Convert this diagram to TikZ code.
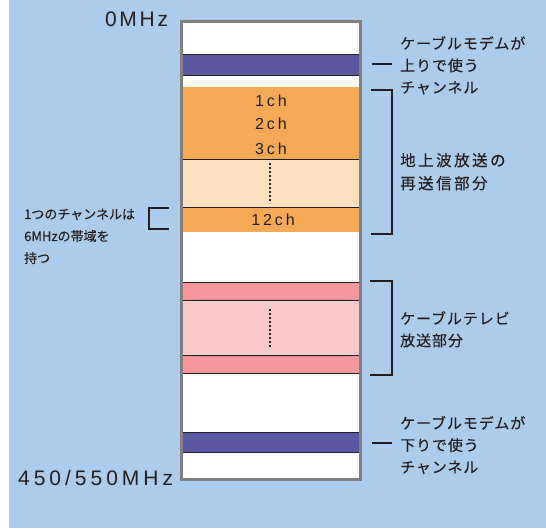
\documentclass[tikz,border=0pt]{standalone}
\usepackage{fontspec}
\setmainfont{Noto Sans CJK JP}
\newfontfamily\jp[FakeBold=0.3]{Noto Sans CJK JP}
\newfontfamily\lat{Liberation Sans}
\definecolor{bgblue}{HTML}{ABCDEB}
\definecolor{framegray}{HTML}{808080}
\definecolor{bandblue}{HTML}{5B57A2}
\definecolor{orangeband}{HTML}{F7AA55}
\definecolor{lightorange}{HTML}{FDE0C0}
\definecolor{redband}{HTML}{F5979D}
\definecolor{pinkband}{HTML}{F9C9C9}
\definecolor{ink}{HTML}{231F20}
\tikzset{
  sep/.style={draw=ink, line width=1pt},
  brk/.style={draw=ink, line width=1.8pt},
  rlabel/.style={anchor=west, inner sep=0pt, align=left, text=ink,
    font=\jp\fontsize{15}{22}\selectfont\addfontfeature{LetterSpace=6}},
  klabel/.style={anchor=west, inner sep=0pt, align=left, text=ink,
    font=\jp\fontsize{15.5}{23}\selectfont\addfontfeature{LetterSpace=16}},
  llabel/.style={anchor=west, inner sep=0pt, align=left, text=ink,
    font=\jp\fontsize{13}{22}\selectfont},
  chlabel/.style={inner sep=0pt, text=ink,
    font=\lat\fontsize{16}{16}\selectfont\addfontfeature{LetterSpace=18}},
  mhz/.style={anchor=east, inner sep=0pt, text=ink,
    font=\lat\fontsize{21}{21}\selectfont},
  dots/.style={draw=ink, line width=1.2pt, dash pattern=on 2pt off 2pt}
}
\begin{document}
\begin{tikzpicture}[x=1pt,y=-1pt]
\useasboundingbox (0,0) rectangle (546,528);
\fill[white] (0,0) rectangle (546,528);
\fill[bgblue] (9,0) rectangle (546,528);
% column interior
\fill[white] (181,21) rectangle (360,479);
% upstream modem band
\fill[bandblue] (181,54.3) rectangle (360,75);
\draw[sep] (181,54.3) -- (360,54.3);
\draw[sep] (181,75) -- (360,75);
% terrestrial channels
\fill[orangeband] (181,86.7) rectangle (360,159.3);
\fill[lightorange] (181,159.3) rectangle (360,207);
\fill[orangeband] (181,207) rectangle (360,231.7);
\draw[sep] (181,159.3) -- (360,159.3);
\draw[sep] (181,207) -- (360,207);
\draw[dots] (270,163) -- (270,203);
% cable TV channels
\fill[redband] (181,282.7) rectangle (360,300.7);
\fill[pinkband] (181,300.7) rectangle (360,355.7);
\fill[redband] (181,355.7) rectangle (360,373.3);
\draw[sep] (181,282.7) -- (360,282.7);
\draw[sep] (181,300.7) -- (360,300.7);
\draw[sep] (181,355.7) -- (360,355.7);
\draw[sep] (181,373.3) -- (360,373.3);
\draw[dots] (270,309.3) -- (270,347.3);
% downstream modem band
\fill[bandblue] (181,432.3) rectangle (360,452.7);
\draw[sep] (181,432.3) -- (360,432.3);
\draw[sep] (181,452.7) -- (360,452.7);
% frame
\draw[framegray, line width=3pt] (181,21) rectangle (360,479);
% channel labels
\node[chlabel] (ch1) at (271,100.7) {1ch};
\node[chlabel] (ch2) at (271,124) {2ch};
\node[chlabel] (ch3) at (271,148.3) {3ch};
\node[chlabel] (ch12) at (273,220) {12ch};
% frequency labels
\node[mhz, font=\lat\fontsize{21}{21}\selectfont\addfontfeature{LetterSpace=13}] (f0) at (168.3,19.3) {0MHz};
\node[mhz, font=\lat\fontsize{21}{21}\selectfont\addfontfeature{LetterSpace=19}] (f450) at (173.3,478) {450/550MHz};
% right labels
\node[rlabel] (up) at (400,65.3) {ケーブルモデムが\\上りで使う\\チャンネル};
\node[klabel] (terr) at (400,171.7) {地上波放送の\\再送信部分};
\node[rlabel] (catv) at (400,329.3) {ケーブルテレビ\\放送部分};
\node[rlabel] (down) at (400,445) {ケーブルモデムが\\下りで使う\\チャンネル};
\node[llabel] (left) at (24,236.3) {1つのチャンネルは\\6MHzの帯域を\\持つ};
% brackets and ticks
\coordinate (upT) at (371.7,64.3);
\coordinate (dnT) at (371.7,443.3);
\draw[brk] (upT) -- ++(20,0);
\draw[brk] (dnT) -- ++(20,0);
\draw[brk] (371,90) -- (391.7,90) -- (391.7,234) -- (371,234);
\draw[brk] (370,281) -- (391.7,281) -- (391.7,375) -- (370,375);
\draw[brk] (169,208) -- (149,208) -- (149,229) -- (169,229);
\end{tikzpicture}
\end{document}
